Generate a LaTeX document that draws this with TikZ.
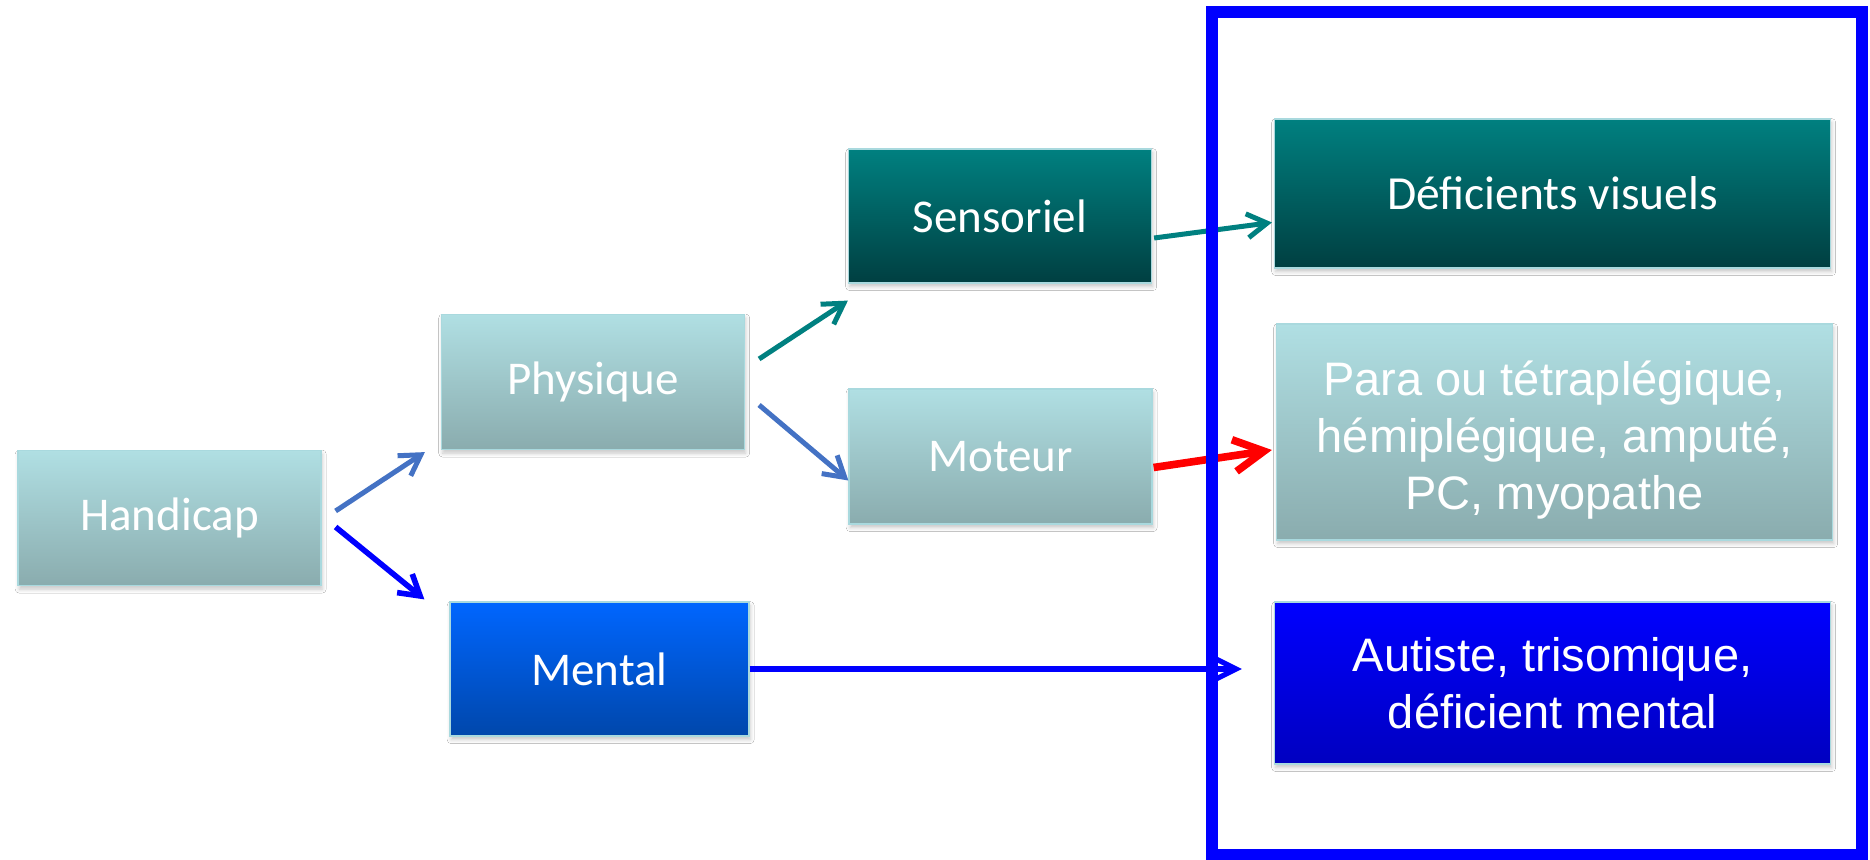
\documentclass[tikz,border=0pt]{standalone}
\usepackage{fontspec}
\setmainfont{Carlito}
\newfontfamily\arialfont{Liberation Sans}
\usetikzlibrary{arrows.meta,calc,shadows.blur}
\definecolor{paleTop}{HTML}{B0DFE3}
\definecolor{paleBot}{HTML}{8AACAE}
\definecolor{tealTop}{HTML}{008080}
\definecolor{tealBot}{HTML}{003F41}
\definecolor{mentTop}{HTML}{0066FF}
\definecolor{mentBot}{HTML}{0047AB}
\definecolor{autTop}{HTML}{0000FF}
\definecolor{autBot}{HTML}{0000C0}
\definecolor{boxEdge}{HTML}{A9D9DE}
\definecolor{steelArr}{HTML}{4472C4}
\definecolor{tealArr}{HTML}{008080}
\definecolor{frameBlue}{HTML}{0000FF}
\tikzset{
        box/.style = {draw=boxEdge, line width=0.6pt, rectangle, inner sep=0pt,
            text=white, align=center,
            blur shadow={shadow xshift=0.6pt, shadow yshift=-1.8pt,
                shadow blur radius=2pt, shadow opacity=22}},
        smallbox/.style = {box, minimum width=151.5pt, minimum height=67.5pt,
            font=\fontsize{23.5}{28}\selectfont},
        widebox/.style = {box, minimum width=278pt},
        palefill/.style = {top color=paleTop, bottom color=paleBot},
        tealfill/.style = {top color=tealTop, bottom color=tealBot},
        link/.style = {line width=2.5pt, -{Straight Barb[length=10pt,width=12pt]}},
        redlink/.style = {red, line width=3.8pt, -{Straight Barb[length=15pt,width=16pt]}},
        bluelink/.style = {frameBlue, line width=2.6pt, -{Straight Barb[length=11pt,width=11pt]}},
        frame/.style = {draw=frameBlue, line width=6pt},
    }

\begin{document}
\begin{tikzpicture}[x=0.5pt,y=-0.5pt]
\fill[white] (0,0) rectangle (1870,860);
\useasboundingbox (0,0) rectangle (1870,860);

% first column
\draw (169.5,518) node [smallbox, palefill] (hand) {Handicap};
% second column
\draw (593,382) node [smallbox, palefill] (phys) {Physique};
\draw (599.5,669) node [smallbox, top color=mentTop, bottom color=mentBot,
    minimum width=149.5pt, minimum height=67pt] (ment) {Mental};
% third column
\draw (1000,216) node [smallbox, tealfill, minimum height=67pt] (sens) {Sensoriel};
\draw (1000.5,456.5) node [smallbox, palefill] (moto) {Moteur};
% boxes inside the frame
\draw (1552.5,193.5) node [widebox, tealfill, minimum height=74.5pt,
    font=\fontsize{23.75}{28}\selectfont] (defv) {Déficients visuels};
\draw (1554.5,432) node [widebox, palefill, minimum height=108pt,
    font=\arialfont\fontsize{23.5}{28.5}\selectfont] (para)
    {\rule{0pt}{25pt}Para ou tétraplégique,\\hémiplégique, amputé,\\PC, myopathe};
\draw (1552.5,683) node [widebox, top color=autTop, bottom color=autBot,
    minimum height=81pt, font=\arialfont\fontsize{23.5}{28.5}\selectfont] (auti)
    {Autiste, trisomique,\\déficient mental};

% connectors
\draw[link, steelArr] ($(hand.east)+(14,-7)$) -- ($(phys.south west)+(-16,2)$);
\draw[link, frameBlue, line width=2.8pt] ($(hand.east)+(14,9)$) -- ($(ment.north west)+(-25,-2)$);
\draw[link, tealArr] ($(phys.east)+(14,-23)$) -- ($(sens.south west)+(0,17)$);
\draw[link, steelArr] ($(phys.east)+(14,23)$) -- ($(moto.west)+(0,24)$);
\draw[link, tealArr] ($(sens.east)+(2,22)$) -- ($(defv.west)+(-2,29)$);
\draw[redlink] ($(moto.east)+(1,11)$) -- ($(para.west)+(-4,18)$);

% frame round the last column
\draw[frame] (1212,12) rectangle (1862,855);

\draw[bluelink] (ment.east) -- ($(auti.west)+(-32,-14)$);

\end{tikzpicture}
\end{document}
